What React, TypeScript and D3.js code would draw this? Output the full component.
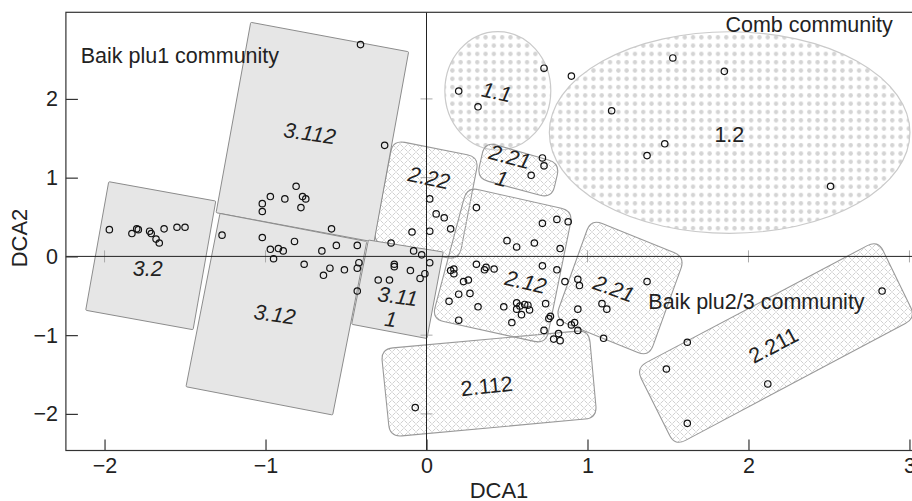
import { useEffect, useRef } from "react";
import * as d3 from "d3";

// site scores (DCA axis 1 and 2)
const sitesDCA1 = [
  -1.97, -1.83, -1.8, -1.79, -1.72, -1.71, -1.68, -1.66, -1.63, -1.55, -1.5,
  -1.27, -1.02, -0.97, -0.92, -0.89, -0.95, -0.82, -0.76, -0.65, -0.56, -0.6, -0.64, -0.51, -0.43, -0.43, -0.42, -0.43,
  -0.81, -0.97, -1.02, -1.02, -0.88, -0.77, -0.75, -0.78, -0.59, -0.41, -0.26,
  -0.22, -0.09, 0.02, -0.08, -0.03, 0.02, -0.2, -0.2, -0.1, -0.01, -0.04, -0.3, -0.23,
  0.02, 0.06, 0.11, 0.15, 0.31,
  0.31, 0.15, 0.17, 0.17, 0.26, 0.23, 0.2, 0.27, 0.14, 0.2, 0.37, 0.36, 0.42, 0.32, 0.48,
  0.56, 0.58, 0.56, 0.61, 0.63, 0.64, 0.59, 0.53,
  0.72, 0.81, 0.88, 0.5, 0.56, 0.67, 0.83, 0.72, 0.81, 0.86, 0.94, 0.95, 0.74, 0.94, 0.77, 0.76, 0.83, 0.9, 0.92, 0.73, 0.82, 0.94, 0.79, 0.83,
  1.09, 1.12, 1.1, 1.37,
  1.49, 1.62, 2.12, 1.62, 2.83,
  -0.07,
  0.2, 0.32, 0.73,
  0.9, 1.53, 1.85, 1.15, 1.48, 1.37, 2.51,
  0.72, 0.73, 0.65,
];
const sitesDCA2 = [
  0.34, 0.29, 0.35, 0.34, 0.32, 0.29, 0.22, 0.17, 0.35, 0.37, 0.37,
  0.27, 0.24, 0.09, 0.1, 0.07, -0.03, 0.19, -0.1, 0.07, 0.14, -0.15, -0.24, -0.17, 0.14, -0.15, -0.08, -0.44,
  0.89, 0.76, 0.67, 0.57, 0.73, 0.76, 0.73, 0.62, 0.35, 2.69, 1.41,
  0.17, 0.31, 0.32, 0.07, 0.02, -0.08, -0.1, -0.13, -0.18, -0.22, -0.28, -0.3, -0.3,
  0.73, 0.54, 0.49, 0.35, 0.62,
  -0.1, -0.18, -0.16, -0.22, -0.3, -0.32, -0.48, -0.47, -0.57, -0.81, -0.14, -0.17, -0.16, -0.64, -0.64,
  -0.59, -0.63, -0.67, -0.61, -0.62, -0.68, -0.74, -0.84,
  0.42, 0.47, 0.44, 0.2, 0.12, 0.17, 0.1, -0.12, -0.17, -0.32, -0.29, -0.37, -0.6, -0.67, -0.76, -0.79, -0.84, -0.87, -0.84, -0.94, -0.98, -0.94, -1.05, -1.07,
  -0.6, -0.67, -1.04, -0.32,
  -1.43, -1.09, -1.62, -2.12, -0.44,
  -1.92,
  2.1, 1.9, 2.39,
  2.29, 2.52, 2.35, 1.85, 1.43, 1.28, 0.89,
  1.25, 1.15, 1.03,
];

// Baik plu1 groups (grey blocks), corners in DCA units
const greyBlocks: [number, number][][] = [
  [[-1.974, 0.949], [-1.309, 0.703], [-1.45, -0.931], [-2.117, -0.684]], // 3.2
  [[-1.092, 2.973], [-0.111, 2.599], [-0.326, 0.183], [-1.307, 0.555]], // 3.112
  [[-1.283, 0.545], [-0.371, 0.189], [-0.583, -2.014], [-1.494, -1.655]], // 3.12
  [[-0.361, 0.208], [0.104, 0.056], [0.003, -1.043], [-0.465, -0.862]], // 3.111
];

// Baik plu2/3 groups (hatched blocks)
const hatchBlocks: [number, number][][] = [
  [[-0.283, -1.176], [1.009, -0.935], [1.059, -2.052], [-0.227, -2.293]], // 2.112
  [[-0.208, 1.478], [0.326, 1.262], [0.202, -0.046], [-0.332, 0.17]], // 2.22
  [[0.363, 1.457], [0.829, 1.182], [0.778, 0.738], [0.312, 0.992]], // 2.211 (small)
  [[0.252, 0.881], [0.91, 0.577], [0.742, -1.112], [0.034, -0.795]], // 2.12
  [[1.022, 0.475], [1.606, -0.008], [1.382, -1.277], [0.798, -0.795]], // 2.21
  [[1.301, -1.417], [2.804, 0.208], [3.04, -0.782], [1.543, -2.408]], // 2.211
];

// Comb groups (dotted ellipses): cx, cy, rx, ry
const dotEllipses = [
  { cx: 0.443, cy: 2.103, rx: 0.329, ry: 0.752 },
  { cx: 1.883, cy: 1.573, rx: 1.12, ry: 1.28 },
];

const groupLabels = [
  { text: "3.112", x: -0.725, y: 1.567, rot: 8, italic: true },
  { text: "3.2", x: -1.732, y: -0.147, rot: 0, italic: true },
  { text: "3.12", x: -0.943, y: -0.731, rot: 8, italic: true },
  { text: "3.11", x: -0.178, y: -0.503, rot: 8, italic: true },
  { text: "1", x: -0.222, y: -0.795, rot: 8, italic: true },
  { text: "2.22", x: 0.016, y: 1.002, rot: 12, italic: true },
  { text: "2.21", x: 0.519, y: 1.269, rot: 15, italic: true },
  { text: "1", x: 0.467, y: 0.992, rot: 15, italic: true },
  { text: "2.12", x: 0.617, y: -0.321, rot: 13, italic: true },
  { text: "2.21", x: 1.165, y: -0.405, rot: 20, italic: true },
  { text: "2.112", x: 0.374, y: -1.643, rot: -6, italic: false },
  { text: "2.211", x: 2.154, y: -1.125, rot: -28, italic: false },
  { text: "1.1", x: 0.436, y: 2.091, rot: 12, italic: true },
  { text: "1.2", x: 1.881, y: 1.552, rot: 0, italic: false },
];

const communityLabels = [
  { text: "Baik plu1 community", x: -2.148, y: 2.452, anchor: "start" },
  { text: "Comb community", x: 2.896, y: 2.85, anchor: "end" },
  { text: "Baik plu2/3 community", x: 1.378, y: -0.668, anchor: "start" },
];

const xTicks = [-2, -1, 0, 1, 2, 3];
const yTicks = [-2, -1, 0, 1, 2];

const FONT = "'Liberation Sans', Arial, sans-serif";

function roundedPath(pts: [number, number][], r: number) {
  const n = pts.length;
  let d = "";
  for (let i = 0; i < n; i++) {
    const p = pts[i];
    const prev = pts[(i + n - 1) % n];
    const next = pts[(i + 1) % n];
    const l1 = Math.hypot(prev[0] - p[0], prev[1] - p[1]);
    const l2 = Math.hypot(next[0] - p[0], next[1] - p[1]);
    const a = [p[0] + ((prev[0] - p[0]) / l1) * r, p[1] + ((prev[1] - p[1]) / l1) * r];
    const b = [p[0] + ((next[0] - p[0]) / l2) * r, p[1] + ((next[1] - p[1]) / l2) * r];
    d += (i === 0 ? "M" : "L") + a[0] + "," + a[1] + "Q" + p[0] + "," + p[1] + " " + b[0] + "," + b[1];
  }
  return d + "Z";
}

function DcaPlot() {
  const ref = useRef<SVGSVGElement>(null);

  useEffect(() => {
    const svg = d3.select(ref.current);
    svg.selectAll("*").remove();

    const x = d3.scaleLinear().domain([-2.24, 3.04]).range([65.9, 915.9]);
    const y = d3.scaleLinear().domain([-2.465, 3.1]).range([450.5, 12.3]);

    const defs = svg.append("defs");
    // diamond lattice with small gaps at the crossings
    const hatch = defs.append("pattern").attr("id", "hatch")
      .attr("patternUnits", "userSpaceOnUse").attr("width", 8).attr("height", 8);
    hatch.append("path").attr("d", "M0,0L8,8M8,0L0,8")
      .attr("stroke", "#c4c4c4").attr("stroke-width", 0.8).attr("fill", "none")
      .attr("stroke-dasharray", "4.26 1.4").attr("stroke-dashoffset", -0.7);
    const dots = defs.append("pattern").attr("id", "dots")
      .attr("patternUnits", "userSpaceOnUse").attr("width", 8.3).attr("height", 8.3);
    dots.append("circle").attr("cx", 4.15).attr("cy", 4.15).attr("r", 2.2).attr("fill", "#d4d4d4");

    const toPx = (c: [number, number][]) => c.map(([a, b]) => [x(a), y(b)] as [number, number]);

    // comb ellipses
    svg.append("g").selectAll("ellipse").data(dotEllipses).join("ellipse")
      .attr("cx", (d) => x(d.cx)).attr("cy", (d) => y(d.cy))
      .attr("rx", (d) => x(d.rx) - x(0)).attr("ry", (d) => y(0) - y(d.ry))
      .attr("fill", "url(#dots)").attr("stroke", "#cacaca").attr("stroke-width", 1.2);

    // hatched blocks
    svg.append("g").selectAll("path").data(hatchBlocks).join("path")
      .attr("d", (d) => roundedPath(toPx(d), 12))
      .attr("fill", "url(#hatch)").attr("stroke", "#9a9a9a").attr("stroke-width", 1.1);

    // grey blocks
    svg.append("g").selectAll("path").data(greyBlocks).join("path")
      .attr("d", (d) => roundedPath(toPx(d), 1))
      .attr("fill", "#e6e6e6").attr("stroke", "#8c8c8c").attr("stroke-width", 1);

    // zero lines with small marks
    const zero = svg.append("g");
    zero.selectAll(".mx").data(xTicks.filter((t) => t !== 0)).join("line")
      .attr("x1", (d) => x(d)).attr("x2", (d) => x(d))
      .attr("y1", y(0) - 6).attr("y2", y(0) + 6)
      .attr("stroke", "#aaa").attr("stroke-width", 1);
    zero.selectAll(".my").data(yTicks.filter((t) => t !== 0)).join("line")
      .attr("y1", (d) => y(d)).attr("y2", (d) => y(d))
      .attr("x1", x(0) - 6).attr("x2", x(0) + 6)
      .attr("stroke", "#aaa").attr("stroke-width", 1);
    zero.append("line").attr("x1", x(-2.24)).attr("x2", x(3.04))
      .attr("y1", y(0)).attr("y2", y(0)).attr("stroke", "#222").attr("stroke-width", 1);
    zero.append("line").attr("x1", x(0)).attr("x2", x(0))
      .attr("y1", y(-2.465)).attr("y2", y(3.1)).attr("stroke", "#222").attr("stroke-width", 1);

    // sites
    svg.append("g").selectAll("circle").data(sitesDCA1).join("circle")
      .attr("cx", (d) => x(d)).attr("cy", (_d, i) => y(sitesDCA2[i]))
      .attr("r", 3.2).attr("fill", "none").attr("stroke", "#111").attr("stroke-width", 1.2);

    // group labels
    svg.append("g").selectAll("text").data(groupLabels).join("text")
      .attr("transform", (d) => `translate(${x(d.x)},${y(d.y)}) rotate(${d.rot})`)
      .attr("text-anchor", "middle").attr("dy", "0.36em")
      .attr("font-family", FONT).attr("font-size", 21.5)
      .attr("font-style", (d) => (d.italic ? "italic" : "normal"))
      .attr("fill", "#222").text((d) => d.text);

    svg.append("g").selectAll("text").data(communityLabels).join("text")
      .attr("x", (d) => x(d.x)).attr("y", (d) => y(d.y))
      .attr("text-anchor", (d) => d.anchor)
      .attr("font-family", FONT).attr("font-size", 21.5)
      .attr("fill", "#222").text((d) => d.text);

    // frame
    svg.append("rect").attr("x", 65.9).attr("y", 12.3)
      .attr("width", 850).attr("height", 438.2)
      .attr("fill", "none").attr("stroke", "#333").attr("stroke-width", 1.2);

    // axes (inward ticks)
    const fmt = d3.format("d");
    const xAxis = svg.append("g").attr("transform", `translate(0,${450.5})`)
      .call(d3.axisBottom(x).tickValues(xTicks).tickFormat(fmt).tickSizeInner(-11).tickSizeOuter(0).tickPadding(7));
    const yAxis = svg.append("g").attr("transform", `translate(${65.9},0)`)
      .call(d3.axisLeft(y).tickValues(yTicks).tickFormat(fmt).tickSizeInner(-12).tickSizeOuter(0).tickPadding(8));
    [xAxis, yAxis].forEach((g) => {
      g.select(".domain").remove();
      g.selectAll("line").attr("stroke", "#333").attr("stroke-width", 1.2);
      g.selectAll("text").attr("font-family", FONT).attr("font-size", 21.5).attr("fill", "#222");
    });

    svg.append("text").attr("x", 499).attr("y", 498).attr("text-anchor", "middle")
      .attr("font-family", FONT).attr("font-size", 22).attr("fill", "#222").text("DCA1");
    svg.append("text").attr("transform", "translate(27,238) rotate(-90)").attr("text-anchor", "middle")
      .attr("font-family", FONT).attr("font-size", 22).attr("fill", "#222").text("DCA2");
  }, []);

  return (
    <svg ref={ref} width={912} height={501}
      style={{ position: "absolute", left: 0, top: 0, background: "#fff" }} />
  );
}

export default function App() {
  return <DcaPlot />;
}
